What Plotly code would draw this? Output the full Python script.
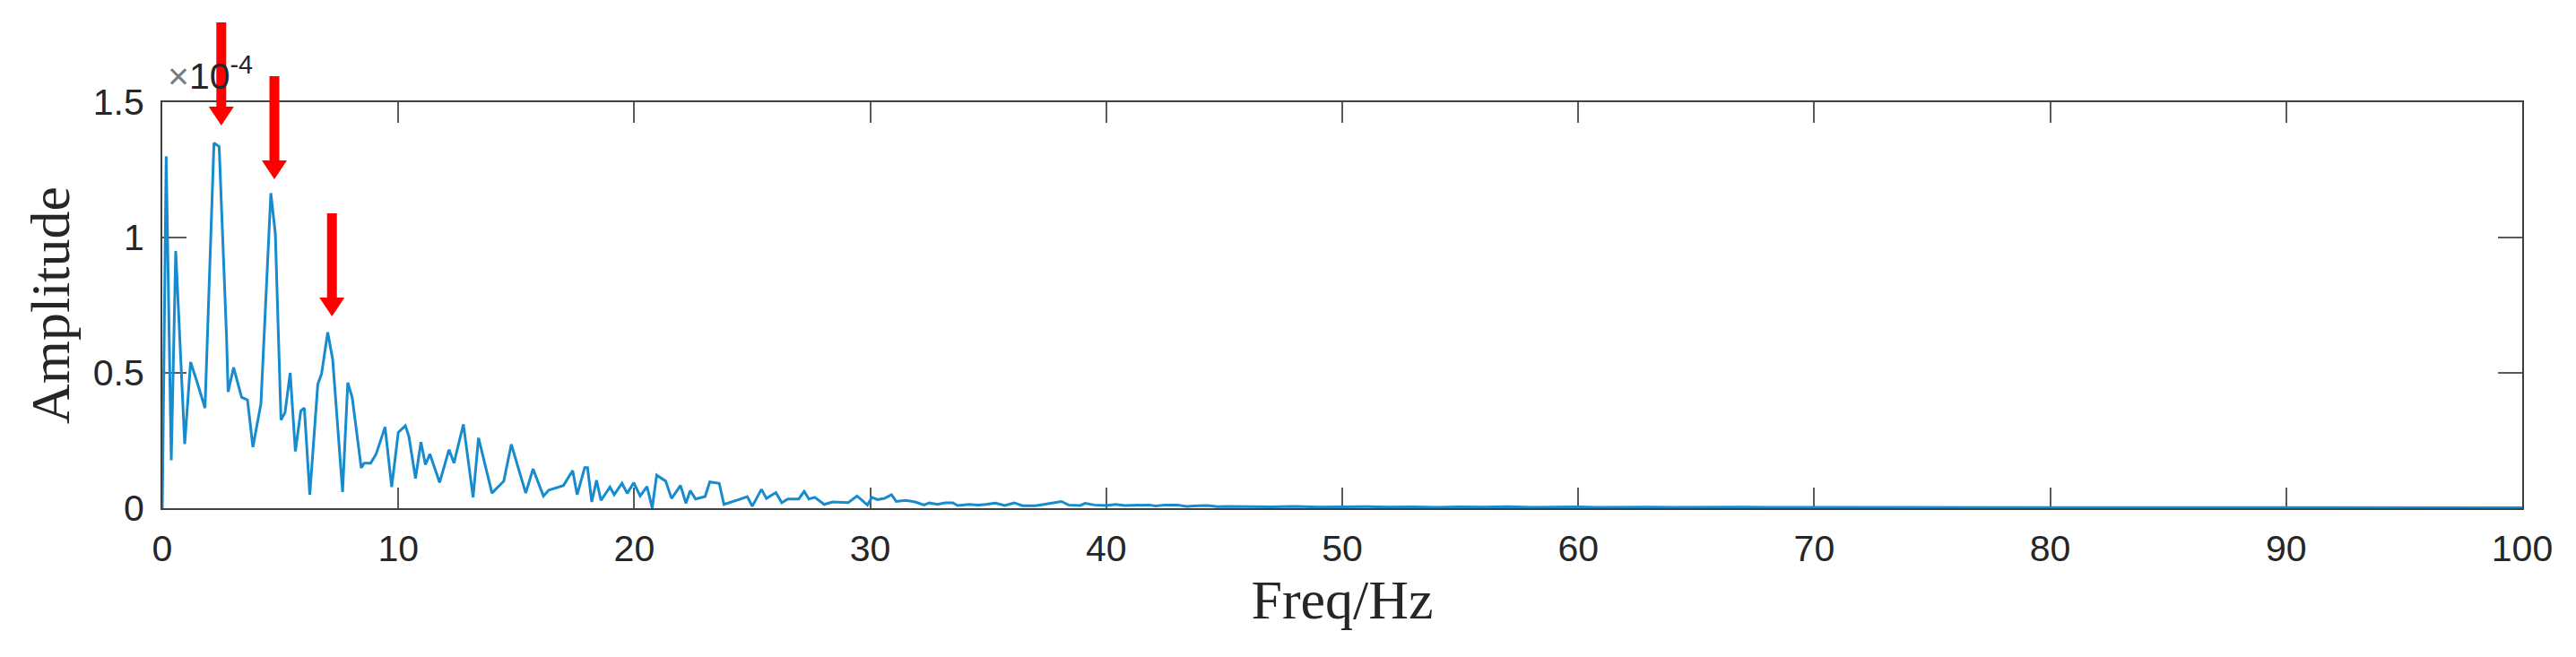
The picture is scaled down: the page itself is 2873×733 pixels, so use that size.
import plotly.graph_objects as go

# Frequency (Hz) and amplitude (x1e-4)
freq = [0, 0.165, 0.38, 0.57, 0.95, 1.2, 1.46, 1.81, 2.19, 2.41, 2.72, 2.79, 3.02, 3.36, 3.61, 3.84,
        4.18, 4.6, 4.79, 5.03, 5.2, 5.42, 5.64, 5.87, 6.02, 6.25, 6.59, 6.75, 7.01, 7.22, 7.64, 7.86,
        8.05, 8.43, 8.55, 8.83, 9.06, 9.44, 9.72, 10.0, 10.3, 10.45, 10.73, 10.96, 11.15, 11.34, 11.75,
        12.15, 12.36, 12.76, 13.17, 13.4, 13.97, 14.47, 14.79, 15.4, 15.71, 16.15, 16.38, 17.0, 17.39,
        17.58, 17.9, 18.02, 18.2, 18.4, 18.59, 18.97, 19.15, 19.48, 19.7, 19.98, 20.25, 20.54, 20.76,
        20.95, 21.33, 21.58, 21.96, 22.19, 22.37, 22.6, 23.0, 23.2, 23.6, 23.8, 24.43, 24.79, 25.0,
        25.39, 25.6, 26.0, 26.25, 26.5, 26.97, 27.2, 27.4, 27.65, 28.05, 28.4, 29.07, 29.44, 29.88,
        30.07, 30.3, 30.6, 30.9, 31.1, 31.5, 31.9, 32.28, 32.5, 32.85, 33.17, 33.5, 33.7, 34.2, 34.56,
        34.9, 35.3, 35.7, 36.1, 36.45, 37.0, 37.3, 37.7, 38.1, 38.4, 38.9, 39.1, 39.5, 40.0, 40.4,
        40.8, 41.1, 41.8, 42.1, 42.5, 43.0, 43.4, 43.9, 44.3, 44.7, 45.2,
        46, 47, 48, 49, 50, 51, 52, 53, 54, 55, 56, 57, 58, 59, 60, 61, 62, 63, 64, 65, 66, 67, 68,
        69, 70, 71, 72, 73, 74, 75, 76, 77, 78, 79, 80, 81, 82, 83, 84, 85, 86, 87, 88, 89, 90, 91,
        92, 93, 94, 95, 96, 97, 98, 99, 100]
amplitude = [0.0, 1.30, 0.177, 0.95, 0.237, 0.54, 0.47, 0.37, 1.349, 1.336, 0.64, 0.43, 0.52, 0.41,
             0.40, 0.226, 0.386, 1.164, 1.015, 0.326, 0.353, 0.50, 0.21, 0.36, 0.37, 0.05, 0.458,
             0.497, 0.65, 0.55, 0.06, 0.464, 0.408, 0.149, 0.166, 0.166, 0.20, 0.30, 0.078, 0.28,
             0.305, 0.265, 0.11, 0.244, 0.161, 0.20, 0.095, 0.216, 0.167, 0.31, 0.04, 0.26, 0.056,
             0.10, 0.236, 0.056, 0.145, 0.045, 0.067, 0.084, 0.139, 0.05, 0.15, 0.15, 0.023, 0.103,
             0.029, 0.078, 0.05, 0.092, 0.055, 0.094, 0.045, 0.08, 0.001, 0.122, 0.10, 0.036, 0.084,
             0.018, 0.065, 0.034, 0.043, 0.097, 0.092, 0.014, 0.032, 0.043, 0.007, 0.07, 0.036,
             0.058, 0.02, 0.034, 0.034, 0.062, 0.034, 0.04, 0.014, 0.023, 0.021, 0.045, 0.012, 0.04,
             0.032, 0.036, 0.05, 0.025, 0.029, 0.023, 0.012, 0.02, 0.014, 0.02, 0.02, 0.01, 0.014,
             0.012, 0.014, 0.019, 0.01, 0.02, 0.009, 0.009, 0.013, 0.018, 0.025, 0.012, 0.01, 0.018,
             0.012, 0.01, 0.014, 0.01, 0.01, 0.012, 0.008, 0.012, 0.012, 0.007, 0.009, 0.01, 0.006,
             0.007,
             0.006, 0.005, 0.007, 0.004, 0.005, 0.006, 0.004, 0.005, 0.003, 0.005, 0.004, 0.006,
             0.003, 0.004, 0.005, 0.003, 0.004, 0.004, 0.003, 0.004, 0.003, 0.004, 0.003, 0.003,
             0.004, 0.003, 0.003, 0.004, 0.003, 0.002, 0.003, 0.003, 0.002, 0.003, 0.003, 0.002,
             0.003, 0.002, 0.002, 0.003, 0.002, 0.002, 0.003, 0.002, 0.002, 0.002, 0.003, 0.002,
             0.002, 0.002, 0.002, 0.002, 0.002, 0.002, 0.002]

y_range = [0, 1.5]
x_range = [0, 100]
y_tick_vals = [0, 0.5, 1, 1.5]
y_tick_text = ["0", "0.5", "1", "1.5"]
x_tick_vals = [0, 10, 20, 30, 40, 50, 60, 70, 80, 90, 100]

# Red arrows marking the harmonic peaks (tip positions in data units)
arrow_x = [2.5, 4.75, 7.19]
arrow_tip_y = [1.414, 1.215, 0.709]

TICK_FONT = dict(family="Liberation Sans, Arial", size=41, color="#262626")
TITLE_FONT = dict(family="Liberation Serif, Times New Roman", size=62, color="#262626")

fig = go.Figure()
fig.add_trace(go.Scatter(x=freq, y=amplitude, mode="lines",
                         line=dict(color="#168BCD", width=3), showlegend=False))

# arrows: shaft + triangular head, sized in pixels, anchored at the tip
# (vertical anchor given as plot fraction so the shafts are not clipped above the axes)
for ax_, ay_ in zip(arrow_x, arrow_tip_y):
    frac = (ay_ - y_range[0]) / (y_range[1] - y_range[0])
    fig.add_shape(type="rect", xref="x", yref="paper", xsizemode="pixel", ysizemode="pixel",
                  xanchor=ax_, yanchor=frac, x0=-5.5, x1=5.5, y0=19, y1=115,
                  fillcolor="#FF0000", line=dict(width=0), layer="above")
    fig.add_shape(type="path", xref="x", yref="paper", xsizemode="pixel", ysizemode="pixel",
                  xanchor=ax_, yanchor=frac, path="M-14,21 L14,21 L0,0 Z",
                  fillcolor="#FF0000", line=dict(width=0), layer="above")

fig.add_annotation(xref="paper", yref="paper", x=0, y=1, xanchor="left", yanchor="bottom",
                   xshift=4, yshift=4, showarrow=False,
                   text="<span style='color:#7a7a7a'>×</span>10<sup>-4</sup>",
                   font=TICK_FONT)

fig.update_layout(
    width=2873, height=733, autosize=False,
    paper_bgcolor="white", plot_bgcolor="white",
    margin=dict(l=181, r=60, t=114, b=166),
    xaxis=dict(range=x_range, tickvals=x_tick_vals, ticks="inside", ticklen=23, tickwidth=2,
               tickcolor="#5a5a5a", showline=True, linecolor="#404040", linewidth=2,
               mirror="ticks", showgrid=False, zeroline=False, tickfont=TICK_FONT,
               ticklabelstandoff=8, layer="below traces", automargin=False,
               title=dict(text="Freq/Hz", font=TITLE_FONT, standoff=3)),
    yaxis=dict(range=y_range, tickvals=y_tick_vals, ticktext=y_tick_text, ticks="inside",
               ticklen=27, tickwidth=2, tickcolor="#5a5a5a", showline=True,
               linecolor="#404040", linewidth=2, mirror="ticks", showgrid=False,
               zeroline=False, tickfont=TICK_FONT, ticklabelstandoff=10, layer="below traces",
               automargin=False,
               title=dict(text="Amplitude", font=TITLE_FONT, standoff=6)),
)

fig.write_html("out.html", config={"displayModeBar": False},
               post_script="document.body.style.margin='0';document.body.style.overflow='hidden';")
